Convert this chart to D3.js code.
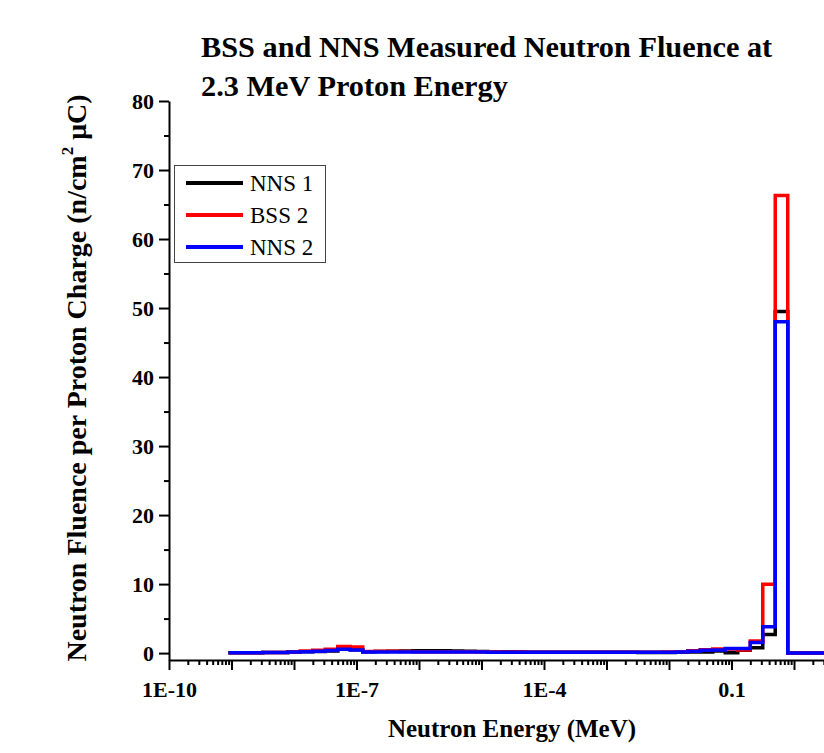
<!DOCTYPE html>
<html><head><meta charset="utf-8">
<script src="https://cdn.jsdelivr.net/npm/d3@7"></script>
<style>body{margin:0;background:#fff}</style>
</head><body><svg id="c" width="824" height="753"></svg>
<script>
// log10 of bin edges (MeV)
const binEdgesLog10 = [-9.05,-8.9,-8.7,-8.5,-8.3,-8.1,-7.9,-7.7,-7.5,-7.3,-7.1,-6.9,-6.7,-6.5,-6.3,-6.1,-5.9,-5.7,-5.5,-5.3,-5.1,-4.9,-4.7,-4.5,-4.3,-4.1,-3.9,-3.7,-3.5,-3.3,-3.1,-2.9,-2.7,-2.5,-2.3,-2.1,-1.9,-1.7,-1.5,-1.3,-1.1,-0.9,-0.7,-0.5,-0.3,-0.1,1.3];
const seriesNames = ["NNS 1","BSS 2","NNS 2"];
const seriesColors = ["#000000","#ff0000","#0000ff"];
const nns1 = [0.05,0.05,0.06,0.07,0.08,0.15,0.18,0.22,0.3,0.55,0.5,0.2,0.22,0.25,0.3,0.33,0.33,0.33,0.3,0.28,0.22,0.2,0.18,0.15,0.14,0.12,0.12,0.12,0.12,0.12,0.12,0.12,0.12,0.1,0.1,0.1,0.12,0.15,0.15,0.3,0.05,0.4,0.77,2.7,49.5,0];
const bss2 = [0.05,0.05,0.06,0.08,0.1,0.2,0.3,0.4,0.55,0.95,0.9,0.22,0.25,0.25,0.22,0.2,0.2,0.2,0.2,0.2,0.18,0.18,0.16,0.15,0.14,0.13,0.12,0.12,0.12,0.12,0.12,0.12,0.12,0.12,0.13,0.15,0.2,0.35,0.5,0.6,0.6,0.45,1.74,9.96,66.3,0];
const nns2 = [0.05,0.05,0.06,0.07,0.08,0.15,0.2,0.25,0.38,0.55,0.45,0.15,0.15,0.15,0.15,0.15,0.15,0.15,0.15,0.15,0.15,0.14,0.14,0.13,0.12,0.12,0.12,0.12,0.12,0.12,0.12,0.12,0.12,0.12,0.12,0.13,0.15,0.25,0.4,0.45,0.65,0.65,1.55,3.8,48.0,0];
const xMajorTicks = [1e-10,1e-9,1e-8,1e-7,1e-6,1e-5,1e-4,1e-3,1e-2,1e-1,1,10,100];
const xLabelTicks = [1e-10,1e-7,1e-4,0.1];
const xTickLabels = ["1E-10","1E-7","1E-4","0.1"];
const yMajorTicks = [0,10,20,30,40,50,60,70,80];
const yMinorTicks = [5,15,25,35,45,55,65,75];

const svg = d3.select("#c");
svg.append("rect").attr("width",824).attr("height",753).attr("fill","#fff");
const x = d3.scaleLog().domain([1e-10,100]).range([169,919]);
const y = d3.scaleLinear().domain([-1,80]).range([660,101]);
const serif = "'Liberation Serif','Times New Roman',serif";

// minor x ticks
const xMinor = [];
xMajorTicks.slice(0,-1).forEach(d=>{for(let k=2;k<=9;k++) xMinor.push(d*k);});

const gxMinor = svg.append("g").attr("transform","translate(0,660)")
  .call(d3.axisBottom(x).tickValues(xMinor).tickSize(5).tickFormat(""));
gxMinor.select(".domain").remove();
const gx = svg.append("g").attr("transform","translate(0,660)")
  .call(d3.axisBottom(x).tickValues(xMajorTicks).tickSize(10).tickSizeOuter(0)
    .tickFormat(d=>{const i=xLabelTicks.findIndex(v=>Math.abs(Math.log10(v)-Math.log10(d))<1e-6);return i>=0?xTickLabels[i]:"";}));
gx.selectAll("text").attr("font-family",serif).attr("font-weight","bold").attr("font-size",22).attr("fill","#000").attr("dy","1.1em");
gx.selectAll("text").filter(function(){return this.textContent==="";}).remove();

const gyMinor = svg.append("g").attr("transform","translate(169,0)")
  .call(d3.axisLeft(y).tickValues(yMinorTicks).tickSize(5).tickFormat(""));
gyMinor.select(".domain").remove();
const gy = svg.append("g").attr("transform","translate(169,0)")
  .call(d3.axisLeft(y).tickValues(yMajorTicks).tickSize(10).tickSizeOuter(0));
gy.selectAll("text").attr("font-family",serif).attr("font-weight","bold").attr("font-size",22).attr("fill","#000").attr("x",-15);
svg.selectAll(".domain, .tick line").attr("stroke","#000").attr("stroke-width",2);

// data lines
const series = [nns1,bss2,nns2];
const line = d3.line().x(d=>x(d[0])).y(d=>y(d[1])).curve(d3.curveStepAfter);
series.forEach((vals,si)=>{
  const pts = vals.map((v,i)=>[Math.pow(10,binEdgesLog10[i]),v]);
  pts.push([Math.pow(10,binEdgesLog10[binEdgesLog10.length-1]),vals[vals.length-1]]);
  svg.append("path").attr("d",line(pts)).attr("fill","none")
    .attr("stroke",seriesColors[si]).attr("stroke-width",3.5)
    .attr("stroke-linejoin","miter").attr("stroke-linecap","butt");
});

// legend
const lg = svg.append("g");
lg.append("rect").attr("x",174.5).attr("y",165.5).attr("width",151).attr("height",97)
  .attr("fill","#fff").attr("stroke","#444").attr("stroke-width",1);
seriesNames.forEach((n,i)=>{
  const yy = 183 + i*32;
  lg.append("line").attr("x1",186).attr("x2",243).attr("y1",yy).attr("y2",yy)
    .attr("stroke",seriesColors[i]).attr("stroke-width",4);
  lg.append("text").attr("x",250).attr("y",yy+8).text(n)
    .attr("font-family",serif).attr("font-size",23).attr("fill","#000");
});

// titles
const title = svg.append("text").attr("font-family",serif).attr("font-weight","bold").attr("font-size",30.3).attr("fill","#000");
title.append("tspan").attr("x",201).attr("y",57).text("BSS and NNS Measured Neutron Fluence at");
title.append("tspan").attr("x",201).attr("y",96).text("2.3 MeV Proton Energy");

svg.append("text").attr("x",512).attr("y",737).attr("text-anchor","middle")
  .attr("font-family",serif).attr("font-weight","bold").attr("font-size",25).attr("fill","#000")
  .text("Neutron Energy (MeV)");

const yl = svg.append("text").attr("transform","translate(86,378) rotate(-90)").attr("text-anchor","middle")
  .attr("font-family",serif).attr("font-weight","bold").attr("font-size",28).attr("fill","#000");
yl.append("tspan").text("Neutron Fluence per Proton Charge (n/cm");
yl.append("tspan").attr("font-size",17).attr("dy",-13).text("2");
yl.append("tspan").attr("dy",13).text(" \u03bcC)");
</script></body></html>
